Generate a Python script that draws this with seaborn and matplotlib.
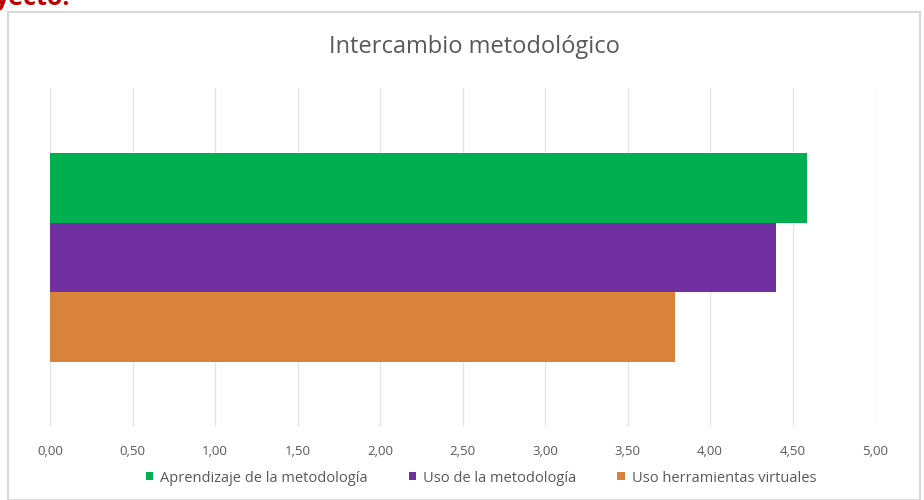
import pandas as pd
import numpy as np
import matplotlib
matplotlib.use("Agg")
import matplotlib.pyplot as plt
from matplotlib.patches import Rectangle
import seaborn as sns

sns.set_style("white")
plt.rcParams['font.family'] = ['Open Sans', 'DejaVu Sans']

# data
category = ["Intercambio metodológico"]
series = ["Aprendizaje de la metodología", "Uso de la metodología", "Uso herramientas virtuales"]
values = [4.59, 4.40, 3.79]
colors = ["#00b050", "#7030a0", "#d9823b"]
xticks = [0, 0.5, 1, 1.5, 2, 2.5, 3, 3.5, 4, 4.5, 5]

df = pd.DataFrame({"cat": category * len(series), "serie": series, "valor": values})

fig = plt.figure(figsize=(9.24, 5.0), dpi=100)
W, H = 924, 500

# chart frame
fig.patches.append(Rectangle((8 / W, 0), (920 - 8) / W, 1 - 12 / H, transform=fig.transFigure,
                             fill=False, edgecolor="#d9d9d9", linewidth=1.5))
# cut-off red text above the chart
fig.text(-5 / W, 1 - 5 / H, "yecto.", color="#c00000", fontsize=18, fontweight="bold",
         ha="left", va="baseline")

ax = fig.add_axes([50 / W, 1 - 427 / H, 825 / W, (427 - 88) / H])
sns.barplot(data=df, x="valor", y="cat", hue="serie", hue_order=series, palette=colors,
            orient="h", width=0.617, saturation=1, ax=ax, legend=True)

ax.set_xlim(0, 5)
ax.set_ylim(0.5, -0.5)
ax.set_xticks(xticks)
ax.set_xticklabels([f"{t:.2f}".replace(".", ",") for t in xticks], color="#595959", fontsize=9.5)
ax.tick_params(axis="x", length=0, pad=13)
ax.set_yticks([])
ax.set_xlabel("")
ax.set_ylabel("")
for s in ax.spines.values():
    s.set_visible(False)
ax.grid(axis="x", color="#e6e6e6", linewidth=1)
ax.set_axisbelow(True)
for p in ax.patches:
    p.set_linewidth(0)

fig.text(474 / W, 1 - 47 / H, "Intercambio metodológico", ha="center", va="center",
         fontsize=17, color="#595959")

handles, labels = ax.get_legend_handles_labels()
ax.legend_.remove()
fig.legend(handles, labels, loc="center", bbox_to_anchor=(481 / W, 1 - 478 / H), ncol=3,
           frameon=False, fontsize=10.5, labelcolor="#595959", handlelength=0.5, handleheight=0.5,
           handletextpad=0.5, columnspacing=2.8)

fig.savefig("out.png", dpi=100)
